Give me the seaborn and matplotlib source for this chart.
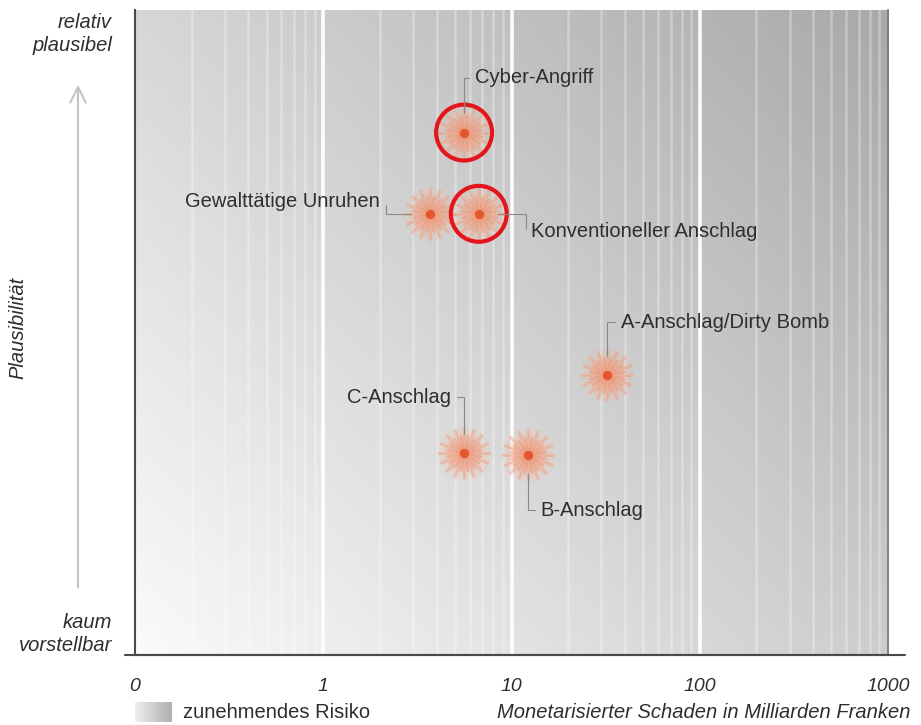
import matplotlib
matplotlib.use("Agg")
import matplotlib.pyplot as plt
import seaborn as sns
import numpy as np
import pandas as pd
from matplotlib.ticker import NullLocator

# scenario data
scenarios = ["Cyber-Angriff", "Gewalttätige Unruhen", "Konventioneller Anschlag",
             "A-Anschlag/Dirty Bomb", "C-Anschlag", "B-Anschlag"]
damage = [5.6, 3.7, 6.7, 32.0, 5.6, 12.2]          # Milliarden Franken (log axis)
plausibility = [81.0, 68.4, 68.4, 43.4, 31.3, 31.0]  # 0 = kaum vorstellbar, 100 = relativ plausibel
highlighted = ["Cyber-Angriff", "Konventioneller Anschlag"]

x_ticks = [0.1, 1, 10, 100, 1000]
x_ticklabels = ["0", "1", "10", "100", "1000"]

# label placement: offset in pixels, alignment, relpos of leader on text, leader shape
label_layout = {
    "Cyber-Angriff": (11, 55, "left", (0, 0.5), "angle,angleA=0,angleB=90,rad=0"),
    "Gewalttätige Unruhen": (-50, 12, "right", (1.03, 0.5), "angle,angleA=90,angleB=0,rad=0"),
    "Konventioneller Anschlag": (52, -18, "left", (-0.02, 0.5), "angle,angleA=90,angleB=0,rad=0"),
    "A-Anschlag/Dirty Bomb": (14, 53, "left", (0, 0.5), "angle,angleA=0,angleB=90,rad=0"),
    "C-Anschlag": (-13, 56, "right", (1, 0.5), "angle,angleA=0,angleB=90,rad=0"),
    "B-Anschlag": (13, -55, "left", (0, 0.5), "angle,angleA=0,angleB=90,rad=0"),
}

df = pd.DataFrame({"scenario": scenarios, "damage": damage, "plausibility": plausibility})
df_hi = df[df["scenario"].isin(highlighted)]

sns.set_style("white")
plt.rcParams["font.family"] = ["Liberation Sans", "DejaVu Sans"]
TXT = "#2e2e2e"
FS = 14.5

fig = plt.figure(figsize=(9.21, 7.25), dpi=100)
pos = [135 / 921, 70 / 725, 753 / 921, 645 / 725]

# background gradient (risk increases to the top right)
bg = fig.add_axes(pos, zorder=0)
gx, gy = np.meshgrid(np.linspace(0, 1, 300), np.linspace(0, 1, 300))
shade = 250 - 46 * gx - 36 * gy
bg.imshow(shade, cmap="gray", vmin=0, vmax=255, origin="lower", aspect="auto",
          extent=[0, 1, 0, 1], interpolation="bilinear")
bg.set_axis_off()

ax = fig.add_axes(pos, zorder=1)
ax.patch.set_alpha(0)
ax.set_xscale("log")
ax.set_xlim(0.1, 1000)
ax.set_ylim(0, 100)

# white vertical lines on log positions
for dec in [0.1, 1, 10, 100]:
    for k in range(2, 10):
        ax.axvline(k * dec, color="white", lw=1.8, alpha=0.3, zorder=1)
for major in [1, 10, 100]:
    ax.axvline(major, color="white", lw=2.6, alpha=0.95, zorder=1)

# starburst markers: soft glow, rays, centre dot
for size, a in [(1500, 0.12), (1000, 0.18), (550, 0.22)]:
    sns.scatterplot(data=df, x="damage", y="plausibility", ax=ax, marker="o", s=size,
                    color="#f7b89c", alpha=a, linewidth=0, zorder=3, legend=False)
sns.scatterplot(data=df, x="damage", y="plausibility", ax=ax, marker=(16, 2, 0), s=1300,
                color="#f29b78", alpha=0.45, linewidth=1.8, zorder=4, legend=False)
sns.scatterplot(data=df, x="damage", y="plausibility", ax=ax, marker=(16, 2, 11.25), s=650,
                color="#ef8460", alpha=0.4, linewidth=1.5, zorder=4, legend=False)
sns.scatterplot(data=df, x="damage", y="plausibility", ax=ax, marker="o", s=45,
                color="#e4572e", linewidth=0, zorder=5, legend=False)

# red circles around highlighted scenarios
sns.scatterplot(data=df_hi, x="damage", y="plausibility", ax=ax, marker="o", s=1620,
                facecolor="none", edgecolor="#e3161c", linewidth=3, zorder=6, legend=False)

for name, xv, yv in zip(scenarios, damage, plausibility):
    dx, dy, ha, relpos, cs = label_layout[name]
    ax.annotate(name, xy=(xv, yv), xytext=(dx, dy), textcoords="offset pixels",
                ha=ha, va="center", fontsize=FS, color=TXT, zorder=7,
                arrowprops=dict(arrowstyle="-", color="#8a8a8a", lw=0.8, shrinkA=2,
                                shrinkB=14, relpos=relpos, connectionstyle=cs))

# axes styling
ax.set_xticks(x_ticks, x_ticklabels)
ax.xaxis.set_minor_locator(NullLocator())
ax.set_yticks([100], [""])
ax.tick_params(axis="x", direction="inout", length=9, width=1.2, color="#555555",
               pad=12, labelsize=14, labelcolor=TXT)
ax.tick_params(axis="y", direction="inout", length=8, width=1.2, color="#555555")
for lbl in ax.get_xticklabels():
    lbl.set_fontstyle("italic")
ax.set_xlabel("")
ax.set_ylabel("")
ax.spines["top"].set_visible(False)
ax.spines["right"].set_color("#777777")
ax.spines["right"].set_linewidth(1.2)
for side in ["left", "bottom"]:
    ax.spines[side].set_color("#4a4a4a")
    ax.spines[side].set_linewidth(1.5)
ax.plot([-0.013, 1.022], [0, 0], transform=ax.transAxes, color="#4a4a4a", lw=1.5,
        clip_on=False, zorder=8)

# y-axis texts and arrow
fig.text(112 / 921, 1 - 34 / 725, "relativ\nplausibel", ha="right", va="center",
         fontsize=FS, style="italic", color=TXT, linespacing=1.25)
fig.text(112 / 921, 1 - 634 / 725, "kaum\nvorstellbar", ha="right", va="center",
         fontsize=FS, style="italic", color=TXT, linespacing=1.25)
fig.text(18 / 921, 1 - 328 / 725, "Plausibilität", rotation=90, ha="center", va="center",
         fontsize=FS, style="italic", color=TXT)
ax.annotate("", xy=(78 / 921, 1 - 82 / 725), xytext=(78 / 921, 1 - 590 / 725),
            xycoords="figure fraction", textcoords="figure fraction",
            arrowprops=dict(arrowstyle="->", color="#c4c4c4", lw=1.5, mutation_scale=28))

# x-axis title and legend swatch
fig.text(910 / 921, 1 - 713 / 725, "Monetarisierter Schaden in Milliarden Franken",
         ha="right", va="center", fontsize=FS, style="italic", color=TXT)
sw = fig.add_axes([135 / 921, 3 / 725, 37 / 921, 20 / 725])
sw.imshow(np.linspace(238, 175, 50)[None, :], cmap="gray", vmin=0, vmax=255,
          aspect="auto", interpolation="bilinear")
sw.set_axis_off()
fig.text(183 / 921, 1 - 713 / 725, "zunehmendes Risiko", ha="left", va="center",
         fontsize=FS, color=TXT)

fig.savefig("out.png", dpi=100, facecolor="white")
